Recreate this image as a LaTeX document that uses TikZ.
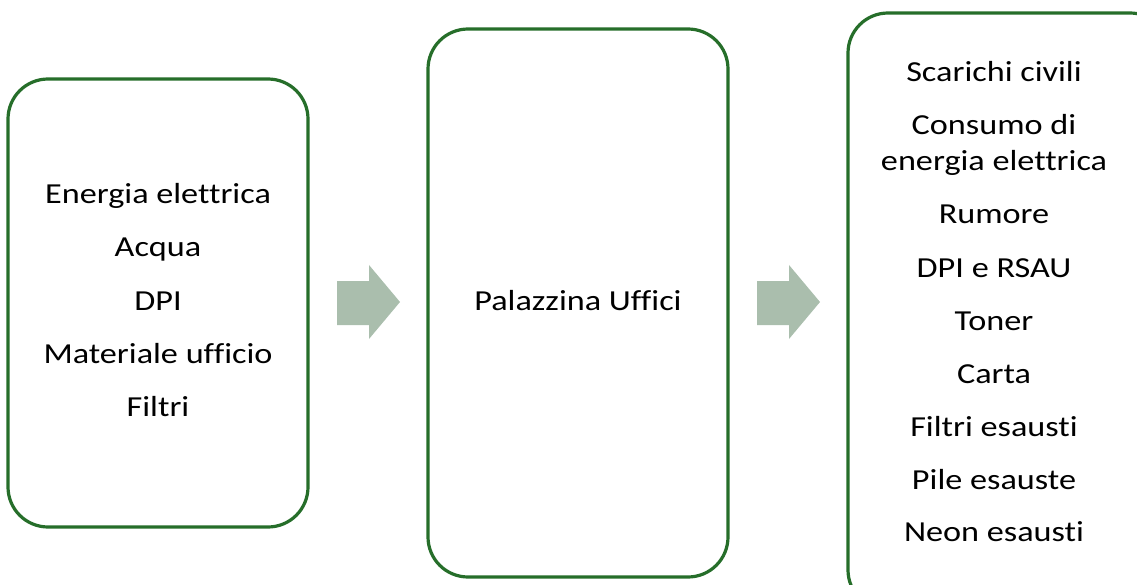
\documentclass[tikz,border=0pt]{standalone}
\usepackage{fontspec}
\setmainfont{Carlito}[Ligatures={NoCommon},FakeStretch=1.18]
\begin{document}
\begin{tikzpicture}[x=1pt,y=-1pt,
  box/.style={draw=boxgreen,line width=3.2pt,rounded corners=40pt,fill=white},
  lbl/.style={font=\fontsize{29}{35}\selectfont,text=black,inner sep=0pt,anchor=base},
  bigarrow/.style={fill=arrowgray,draw=none}]
\definecolor{boxgreen}{RGB}{38,110,42}
\definecolor{arrowgray}{RGB}{170,190,173}
\useasboundingbox (0,0) rectangle (1137,585);
\clip (0,0) rectangle (1137,585);
\draw[box] (8,79) rectangle (308,527);
\draw[box] (428,29) rectangle (728,577);
\draw[box] (848,13) rectangle (1170,610);
\node[lbl] (i1) at (158,204) {Energia elettrica};
\node[lbl] (i2) at (158,257) {Acqua};
\node[lbl] (i3) at (158,310) {DPI};
\node[lbl] (i4) at (158,363) {Materiale ufficio};
\node[lbl] (i5) at (158,416) {Filtri};
\node[lbl] (c1) at (578,310) {Palazzina Uffici};
\node[lbl] (o1) at (994,82) {Scarichi civili};
\node[lbl] (o2) at (994,135) {Consumo di};
\node[lbl] (o3) at (994,171) {energia elettrica};
\node[lbl] (o4) at (994,224) {Rumore};
\node[lbl] (o5) at (994,277) {DPI e RSAU};
\node[lbl] (o6) at (994,330) {Toner};
\node[lbl] (o7) at (994,383) {Carta};
\node[lbl] (o8) at (994,436) {Filtri esausti};
\node[lbl] (o9) at (994,489) {Pile esauste};
\node[lbl] (o10) at (994,541) {Neon esausti};
\fill[bigarrow] (337,281) -- (369,281) -- (369,265) -- (400,302) -- (369,339) -- (369,325) -- (337,325) -- cycle;
\fill[bigarrow] (757,281) -- (789,281) -- (789,265) -- (820,302) -- (789,339) -- (789,325) -- (757,325) -- cycle;
\end{tikzpicture}
\end{document}
